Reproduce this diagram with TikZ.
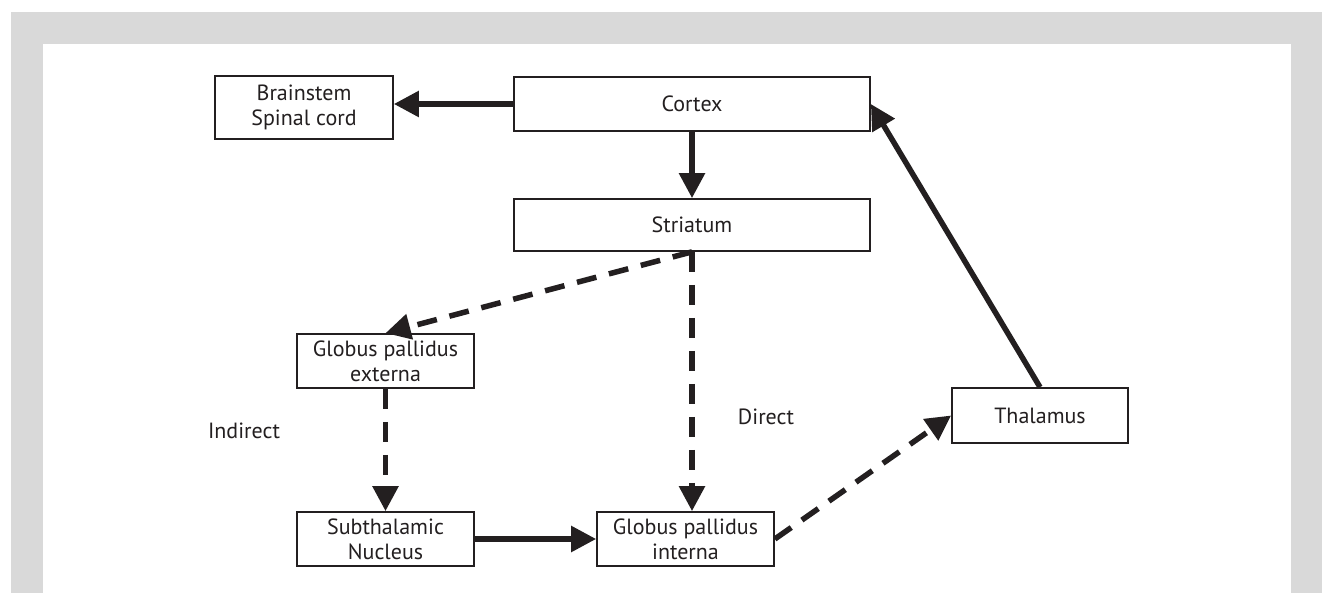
\documentclass[tikz,border=0pt]{standalone}
\usepackage{fontspec}
\setmainfont{PT Sans}
\usetikzlibrary{arrows.meta}
\definecolor{framegray}{HTML}{D9D9D9}
\definecolor{ink}{HTML}{231F20}
\begin{document}
\begin{tikzpicture}[x=1pt, y=-1pt,
  box/.style={draw=ink, line width=1.7pt, minimum width=177pt, minimum height=54pt, inner sep=0pt, align=center, font=\fontsize{22}{25}\selectfont, text=ink},
  widebox/.style={box, minimum width=356pt},
  fwd/.style={draw=ink, line width=5.5pt, -{Triangle[length=25pt,width=25pt]}},
  dfwd/.style={fwd, dash pattern=on 20pt off 13pt},
  lbl/.style={font=\fontsize{22}{25}\selectfont, text=ink, inner sep=0pt}]
\useasboundingbox (0,0) rectangle (1322,593);
\fill[framegray] (11,12) rectangle (1322,593);
\fill[white] (43,44) rectangle (1291,593);
\node[widebox] (cortex) at (692,104){Cortex};
\node[box, minimum width=178pt, minimum height=63pt] (brain) at (304,107.5){Brainstem\\Spinal cord};
\node[widebox, minimum height=52pt] (striatum) at (692,225){Striatum};
\node[box] (gpe) at (385.5,361){Globus pallidus\\externa};
\node[box] (stn) at (385.5,539){Subthalamic\\Nucleus};
\node[box] (gpi) at (685.5,539){Globus pallidus\\interna};
\node[box, minimum width=176pt, minimum height=55pt] (thal) at (1040,415.5){Thalamus};
\node[lbl] (indirect) at (244,431){Indirect};
\node[lbl] (direct) at (766,417){Direct};
\draw[fwd](cortex.west) -- (cortex.west -| brain.east);
\draw[fwd](cortex) -- (striatum);
\draw[dfwd](striatum.south) -- (gpe.north);
\draw[dfwd](striatum.south) -- (gpi.north -| striatum.south);
\draw[dfwd](gpe) -- (stn);
\draw[fwd](stn) -- (gpi);
\draw[dfwd](gpi.east) -- (thal.west);
\draw[fwd](thal.north) -- (cortex.east);
\end{tikzpicture}
\end{document}
